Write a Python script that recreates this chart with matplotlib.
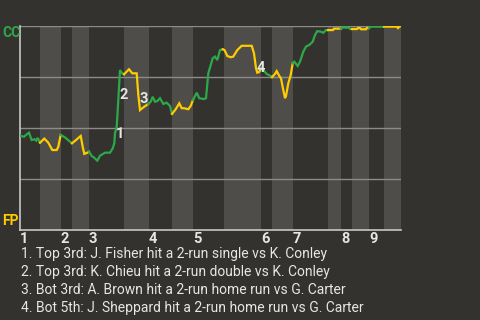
import numpy as np
import matplotlib
import matplotlib.pyplot as plt

matplotlib.use("Agg")

# Colours
BG = "#34322e"
BAND = "#4e4d4a"
GRID = "#8c8b88"
AXIS = "#c8c8c8"
GREEN = "#2da84a"
YELLOW = "#ffcc00"
TEXT = "#e6e6e6"

# Game progress (plate-appearance scale) and CC win probability (%)
x = [0.7, 4, 6, 9, 11.7, 14.3, 16.3, 17.7, 20,
     24.3, 28.3, 32.3, 36.7, 38.3, 40.7,
     45, 50, 52,
     56, 60.7, 62.7, 64.3, 67.3, 69,
     71.7, 74.3, 77.3, 80, 85, 90, 92.7, 94.3, 95, 96.7, 98.3, 100, 101.7, 104,
     109, 112.3, 116.7, 118.3, 120, 123.3, 128.3,
     130.7, 132.7, 135, 137.3, 140, 143.3, 146.7, 150, 152,
     155.7, 159.3, 161.7, 164, 168.3, 170.7, 173,
     176.7, 179.3, 184, 186, 188.3, 192.7, 195, 197.3, 200, 202.7,
     204.5, 207.3, 210.7, 213.3, 217.3, 221.7, 231.7, 234, 236, 237.3, 239.3, 241,
     243.3, 246.7, 250.7, 252,
     255, 256.7, 259.3, 261, 262.7, 265, 266, 268.3, 270.7, 272.7,
     274.3, 277.7, 280, 283.3, 286, 289.3, 292.7, 295, 297.3, 301, 303.3, 306, 308,
     313, 314, 321,
     322, 329, 330, 332,
     337, 338, 340, 341, 346, 347, 349,
     350, 364,
     377, 378, 379, 380.7]
wp = [46.2, 45.7, 46.6, 47.7, 44.1, 44.5, 43.8, 45.2, 42.8,
      44.8, 42.8, 39.2, 39.2, 40.8, 46.6,
      45.4, 43.3, 42.5,
      44.1, 46.1, 40.8, 37.3, 37.9, 38.4,
      36.3, 35.4, 34.0, 36.4, 37.9, 37.9, 40.0, 42.5, 47.4, 50.6, 63.7, 78.4, 77.1, 76.3,
      78.8, 76.8, 76.8, 66.2, 58.8, 60.1, 61.8,
      62.9, 65.3, 62.9, 63.2, 64.6, 61.8, 62.4, 60.8, 56.9,
      59.2, 62.1, 59.7, 59.7, 59.2, 60.8, 63.7,
      67.3, 64.6, 64.2, 64.6, 76.8, 84.2, 85.0, 83.3, 88.2, 88.6,
      88.2, 85.3, 84.7, 85.0, 88.2, 90.3, 90.3, 86.6, 79.3, 77.1, 77.5, 79.3,
      78.4, 76.5, 75.5, 74.9,
      76.5, 77.9, 75.5, 74.4, 70.0, 64.6, 65.7, 71.9, 76.0, 81.7,
      82.5, 80.4, 82.5, 87.4, 89.9, 90.7, 92.3, 95.6, 97.5, 97.2, 96.7, 98.0, 98.0,
      98.0, 98.7, 98.7,
      99.2, 99.2, 98.5, 98.5,
      98.5, 99.0, 99.0, 98.4, 98.4, 99.0, 99.0,
      99.7, 99.7,
      99.7, 99.0, 99.5, 100.0]

# End of each half inning (top 1st, bot 1st, top 2nd, ...)
half_ends = [20, 41, 52, 69, 104, 129, 152, 173, 204,
             241, 252, 273, 308, 321, 332, 349, 364, 381]
inning_labels = ["1", "2", "3", "4", "5", "6", "7", "8", "9"]

# Key plays
event_x = [100, 104, 124, 240.3]
event_wp = [47, 66, 64, 79.6]
event_labels = ["1", "2", "3", "4"]
event_notes = [
    "1. Top 3rd: J. Fisher hit a 2-run single vs K. Conley",
    "2. Top 3rd: K. Chieu hit a 2-run double vs K. Conley",
    "3. Bot 3rd: A. Brown hit a 2-run home run vs G. Carter",
    "4. Bot 5th: J. Sheppard hit a 2-run home run vs G. Carter",
]

plt.rcParams["font.family"] = ["Roboto", "DejaVu Sans"]

fig = plt.figure(figsize=(4.8, 3.2), dpi=100, facecolor=BG)
ax = fig.add_axes([20 / 480, 90 / 320, 381 / 480, 204 / 320])
ax.set_facecolor(BG)
ax.set_xlim(0, half_ends[-1])
ax.set_ylim(0, 100)

half_starts = [0] + half_ends[:-1]
for k, (s, e) in enumerate(zip(half_starts, half_ends)):
    if k % 2 == 1:
        ax.axvspan(s, e, color=BAND, lw=0, zorder=0)

for g in [25, 50, 75, 100]:
    ax.axhline(g, color=GRID, lw=1, zorder=1)

x = np.array(x)
wp = np.array(wp)
half = np.searchsorted(half_ends, x, side="left")
for k in range(len(half_ends)):
    idx = np.where(half == k)[0]
    if len(idx) == 0:
        continue
    if idx[0] > 0:
        idx = np.concatenate([[idx[0] - 1], idx])
    ax.plot(x[idx], wp[idx], color=GREEN if k % 2 == 0 else YELLOW,
            lw=1.6, solid_joinstyle="miter", zorder=3)

for ex, ey, lab in zip(event_x, event_wp, event_labels):
    ax.text(ex, ey, lab, color=TEXT, fontsize=10.5, fontweight="bold",
            ha="center", va="center", zorder=4)

for side in ["top", "right"]:
    ax.spines[side].set_visible(False)
for side in ["left", "bottom"]:
    ax.spines[side].set_color(AXIS)
    ax.spines[side].set_linewidth(1.2)

ax.set_yticks([])
ax.set_xticks(half_starts[::2])
ax.set_xticklabels(inning_labels, color=TEXT, fontsize=10.5,
                   fontweight="bold", ha="left")
ax.tick_params(axis="x", length=0, pad=1.5)

fig.text(2 / 480, 1 - 33 / 320, "CC", color=GREEN, fontsize=10,
         fontweight="bold", va="center", zorder=5)
fig.text(2 / 480, 1 - 221 / 320, "FP", color=YELLOW, fontsize=10,
         fontweight="bold", va="center", zorder=5)

for i, note in enumerate(event_notes):
    fig.text(21 / 480, 1 - (254 + 18 * i) / 320, note, color=TEXT,
             fontsize=10, va="center")

fig.savefig("out.png", dpi=100, facecolor=BG)
